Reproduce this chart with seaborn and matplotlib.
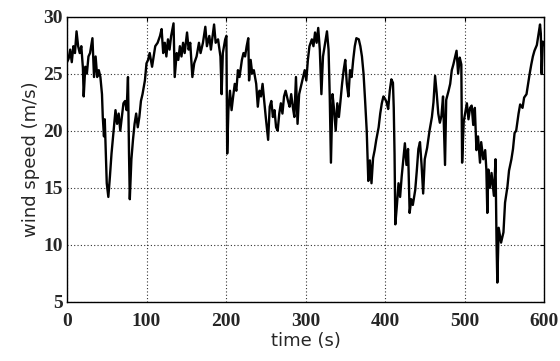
import matplotlib
matplotlib.use("Agg")
import matplotlib.pyplot as plt
import seaborn as sns
import pandas as pd

time_s = [
    0, 2, 4, 6, 8, 10, 12, 14, 16, 18, 20, 21, 23, 25, 27, 29, 32, 34, 36, 38,
    40, 42, 44, 45, 46.5, 47.5, 49, 50, 52, 54, 56, 58, 61, 63, 65, 67, 69, 71, 73, 75,
    76.7, 78, 79, 81, 83, 85, 87, 89, 91, 93, 95, 98, 100, 102, 104, 107, 109, 111, 114, 117,
    119, 121, 123, 125, 127, 129, 131, 134, 135.5, 138, 140, 142, 144, 146, 148, 151, 153, 155, 157.7, 160,
    163, 166, 168, 171, 174, 176, 179, 181, 185, 187, 190, 193, 194.5, 196, 199, 200.5, 201.5, 203, 205, 207,
    209, 211, 213, 215, 217, 220, 222, 224, 226, 228, 229, 231, 233, 235, 238, 240, 242, 244, 246, 248,
    250, 253, 255, 257, 259, 261, 263, 265, 267, 269, 271, 273, 275, 278, 280, 282, 284, 286, 288, 290,
    292, 295, 297, 299, 301, 303, 305, 308, 310, 312, 314, 316, 318, 320, 322, 324, 327, 329, 330.5, 332,
    334, 336, 338, 340, 342, 344, 346, 348, 350, 352, 354, 356, 358, 360, 362, 364, 367, 369, 371, 373,
    375, 377, 379, 381, 383, 385, 387, 389, 392, 394, 396, 398, 400, 402, 404, 406, 408, 410, 411, 412,
    413, 415, 417, 419, 421, 423, 425, 427, 429, 431, 433, 435, 438, 440, 442, 444, 446, 448, 450, 453,
    456, 459, 461, 463, 465, 467, 469, 471, 473, 475.5, 477, 480, 482, 484, 486, 488, 490, 492, 494, 496,
    497, 499, 501, 503, 505, 507, 509, 511, 513, 515, 517, 519.5, 521, 523.6, 526, 527.5, 528.7, 530, 532, 534,
    537, 539, 540.3, 541.3, 543, 546, 549, 551, 554, 556, 559, 561, 563, 565, 568, 570, 573, 575, 578, 580,
    582, 584, 586, 588, 591, 593, 595, 596, 597, 598.5, 600,
]

wind_speed = [
    26.0, 26.3, 27.1, 26.0, 27.4, 26.8, 28.7, 27.4, 26.8, 27.4, 25.5, 23.0, 25.6, 25.0, 26.5, 26.8, 28.1, 24.7, 26.5, 24.7,
    25.3, 24.7, 23.2, 21.2, 19.5, 21.0, 17.5, 15.4, 14.2, 16.0, 18.0, 19.5, 21.8, 20.6, 21.5, 20.0, 21.2, 22.4, 22.6, 21.8,
    24.7, 18.0, 14.0, 17.5, 19.2, 20.6, 21.5, 20.3, 21.2, 22.6, 23.2, 24.4, 25.9, 26.2, 26.8, 25.6, 26.5, 27.4, 27.7, 28.3,
    28.9, 26.8, 27.7, 26.5, 28.0, 27.1, 28.3, 29.4, 24.7, 26.8, 26.2, 27.4, 26.5, 27.7, 26.8, 28.6, 27.1, 27.7, 24.7, 25.9,
    26.5, 27.7, 26.8, 27.7, 29.1, 27.4, 28.3, 27.1, 29.3, 27.7, 28.0, 26.5, 23.2, 26.8, 28.0, 28.3, 18.0, 21.8, 23.5, 21.8,
    23.0, 24.1, 23.5, 25.3, 24.7, 26.2, 26.8, 26.5, 27.4, 28.1, 24.4, 26.2, 25.0, 25.3, 24.1, 22.1, 23.5, 23.0, 24.1, 22.6,
    21.2, 19.2, 22.1, 22.6, 21.2, 21.8, 20.3, 20.0, 21.5, 22.4, 21.5, 23.0, 23.5, 22.6, 22.1, 23.2, 22.1, 21.2, 24.7, 20.6,
    23.2, 24.1, 24.7, 25.3, 24.4, 26.2, 27.4, 28.0, 27.4, 28.6, 27.7, 29.0, 27.1, 23.2, 26.5, 27.4, 28.7, 27.1, 23.0, 17.2,
    23.2, 21.8, 20.0, 22.4, 21.2, 22.6, 24.1, 25.3, 26.2, 24.1, 23.0, 25.3, 24.7, 26.2, 27.4, 28.1, 28.0, 27.4, 26.5, 25.0,
    22.6, 20.0, 15.6, 17.4, 15.4, 17.6, 18.3, 19.2, 20.3, 21.5, 22.4, 23.0, 22.8, 22.5, 21.9, 23.5, 24.5, 24.2, 22.0, 18.0,
    11.8, 13.5, 15.4, 14.2, 16.0, 17.5, 18.9, 17.0, 18.4, 12.8, 14.0, 13.5, 14.8, 16.5, 18.4, 19.0, 17.0, 14.5, 17.5, 18.5,
    20.0, 21.2, 22.5, 24.8, 23.3, 21.5, 20.7, 21.3, 23.0, 17.0, 22.7, 23.5, 24.1, 25.3, 25.8, 26.4, 27.0, 25.0, 26.4, 25.8,
    17.2, 20.8, 21.6, 22.4, 21.0, 22.0, 22.2, 20.5, 22.0, 18.3, 19.5, 17.2, 19.0, 17.5, 18.3, 16.6, 12.8, 16.6, 15.0, 16.3,
    14.3, 17.5, 10.2, 6.7, 11.5, 10.2, 11.1, 13.7, 15.1, 16.5, 17.5, 18.4, 19.8, 20.0, 21.5, 22.3, 22.0, 22.9, 23.2, 24.1,
    25.0, 25.8, 26.5, 27.0, 27.5, 28.4, 29.3, 28.5, 25.0, 27.8, 27.5,
]

x_ticks = [0, 100, 200, 300, 400, 500, 600]
y_ticks = [5, 10, 15, 20, 25, 30]

df = pd.DataFrame({"time": time_s, "speed": wind_speed})

sns.set_style("white")
plt.rcParams["font.family"] = ["DejaVu Sans"]

fig = plt.figure(figsize=(5.6, 3.61), dpi=100)
ax = fig.add_axes([67 / 560, 1 - 302 / 361, (544 - 67) / 560, (302 - 16.5) / 361])

sns.lineplot(data=df, x="time", y="speed", ax=ax, color="black", linewidth=1.7,
             estimator=None, sort=False)

ax.set_xlim(0, 600)
ax.set_ylim(5, 30)
ax.set_xticks(x_ticks)
ax.set_yticks(y_ticks)
ax.set_xticklabels([str(t) for t in x_ticks], family="Liberation Serif",
                   fontweight="bold", fontsize=14)
ax.set_yticklabels([str(t) for t in y_ticks], family="Liberation Serif",
                   fontweight="bold", fontsize=14)
ax.tick_params(axis="both", direction="in", length=3, width=0.8, color="black",
               top=True, right=True)
ax.tick_params(axis="x", pad=8)
ax.tick_params(axis="y", pad=3)

ax.grid(True, linestyle=(0, (1, 2)), color="black", linewidth=0.8, alpha=0.8)
for s in ax.spines.values():
    s.set_visible(True)
    s.set_color("black")
    s.set_linewidth(1.0)

ax.set_xlabel("time (s)", fontsize=13, labelpad=1)
ax.set_ylabel("wind speed (m/s)", fontsize=13, labelpad=2)

fig.savefig("out.png", dpi=100)
